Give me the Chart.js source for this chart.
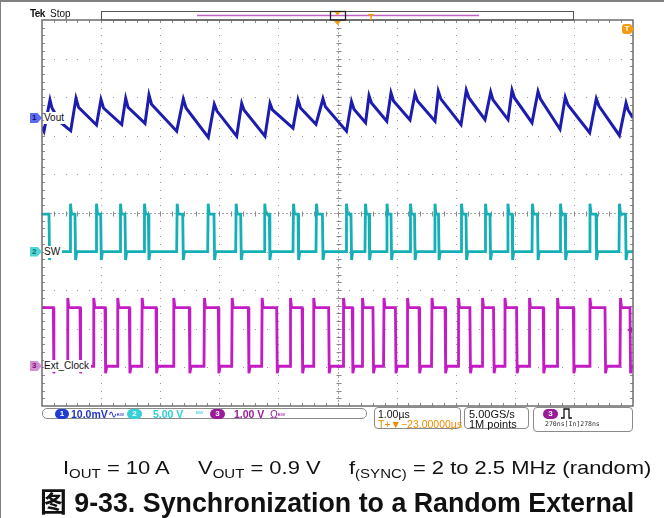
<!DOCTYPE html>
<html><head><meta charset="utf-8">
<script src="https://cdn.jsdelivr.net/npm/chart.js@4.4.1/dist/chart.umd.min.js"></script>
<style>
html,body{margin:0;padding:0;background:#fff;}
body{width:664px;height:518px;position:relative;overflow:hidden;font-family:"Liberation Sans",Arial,sans-serif;}
.abs{position:absolute;white-space:nowrap;}
.mk{position:absolute;width:12px;height:10px;clip-path:polygon(0 0,62% 0,100% 50%,62% 100%,0 100%);font:bold 8px "Liberation Sans",Arial,sans-serif;line-height:10px;padding-left:2px;box-sizing:border-box;}
.lbl{position:absolute;font:10px "Liberation Sans",Arial,sans-serif;line-height:12px;background:#fff;padding-right:2px;color:#111;}
.box{position:absolute;border:1px solid #8a8a8a;border-radius:4px;box-sizing:border-box;background:#fff;}
.badge{position:absolute;height:10px;border-radius:5px;color:#fff;font:bold 8px "Liberation Sans",Arial,sans-serif;line-height:10px;text-align:center;}
.st{position:absolute;white-space:nowrap;font:10.5px "Liberation Sans",Arial,sans-serif;line-height:12px;}
.cap{position:absolute;white-space:nowrap;font:19px "Liberation Sans",Arial,sans-serif;line-height:19px;color:#111;transform:scaleX(1.155);transform-origin:0 0;}
.cap sub{font-size:13px;vertical-align:-4px;line-height:0;}
</style></head><body>
<canvas id="c" width="664" height="518" style="position:absolute;left:0;top:0"></canvas>
<div class="abs" style="left:0;top:0;width:664px;height:2px;background:#808080"></div>
<div class="abs" style="left:0;top:0;width:1px;height:518px;background:#808080"></div>

<div class="abs" style="left:30px;top:8px;font:bold 10px 'Liberation Sans',Arial;letter-spacing:-0.6px;line-height:12px;color:#111">Tek</div>
<div class="abs" style="left:50px;top:8px;font:10px 'Liberation Sans',Arial;line-height:12px;color:#111">Stop</div>

<div class="mk" style="left:30px;top:113px;background:#5b6cf0;color:#10107a">1</div>
<div class="lbl" style="left:44px;top:111.7px">Vout</div>
<div class="mk" style="left:30px;top:246.6px;background:#4fd6d6;color:#0b6f6f">2</div>
<div class="lbl" style="left:44px;top:245.6px">SW</div>
<div class="mk" style="left:30px;top:361px;background:#d58fd5;color:#7a107a">3</div>
<div class="lbl" style="left:44px;top:360px">Ext_Clock</div>

<div class="abs" style="left:622px;top:24px;width:10px;height:10px;background:#f39c12;border-radius:3px;color:#fff;font:bold 8px 'Liberation Sans',Arial;line-height:10px;text-align:center">T</div>

<!-- status bar -->
<div class="box" style="left:42px;top:408px;width:325px;height:11px;border-radius:5px"></div>
<div class="badge" style="left:55px;top:408.5px;width:14px;background:#1e3cd2">1</div>
<div class="st" style="left:71px;top:407.5px;color:#2233cc;font-weight:bold">10.0mV<span style="font-weight:normal">∿</span><span style="font-size:7px;font-weight:normal">ᴮᵂ</span></div>
<div class="badge" style="left:127px;top:408.5px;width:15px;background:#36d0d8">2</div>
<div class="st" style="left:153px;top:407.5px;color:#2ccfd6;font-weight:bold">5.00 V</div>
<div class="st" style="left:196px;top:407.5px;color:#2ccfd6;font-size:7px">ᴮᵂ</div>
<div class="badge" style="left:210px;top:408.5px;width:15px;background:#9a1a9a">3</div>
<div class="st" style="left:234px;top:407.5px;color:#9a1a9a;font-weight:bold">1.00 V</div>
<div class="st" style="left:270px;top:407.5px;color:#9a1a9a">Ω<span style="font-size:7px">ᴮᵂ</span></div>

<div class="box" style="left:374px;top:407px;width:87px;height:22px"></div>
<div class="st" style="left:378px;top:408px;color:#111">1.00µs</div>
<div class="st" style="left:378px;top:418px;color:#f08c00">T+▼−23.00000µs</div>
<div class="box" style="left:464px;top:407px;width:65px;height:22px"></div>
<div class="st" style="left:469px;top:408px;color:#111;font-size:11px">5.00GS/s</div>
<div class="st" style="left:469px;top:418px;color:#111;font-size:11px">1M points</div>
<div class="box" style="left:533px;top:407px;width:100px;height:25px"></div>
<div class="badge" style="left:543px;top:409px;width:15px;background:#9a1a9a">3</div>
<svg class="abs" style="left:561px;top:408px" width="11" height="11"><polyline points="0,10 3,10 3,1 8,1 8,10 11,10" fill="none" stroke="#111" stroke-width="1.3"/></svg>
<div class="st" style="left:545px;top:420px;color:#333;font:6.5px 'DejaVu Sans Mono',monospace;line-height:8px">270ns[In]278ns</div>

<div class="cap" style="left:62.7px;top:457.5px">I<sub>OUT</sub> = 10 A</div>
<div class="cap" style="left:198px;top:457.5px">V<sub>OUT</sub> = 0.9 V</div>
<div class="cap" style="left:349px;top:457.5px">f<sub>(SYNC)</sub> = 2 to 2.5 MHz (random)</div>
<div class="abs" style="left:40px;top:490.3px;font:bold 26.8px 'Liberation Sans',Arial,'Noto Sans CJK SC',sans-serif;line-height:26.8px;color:#111">图 9-33. Synchronization to a Random External</div>

<script>
// ---- Data (time in µs, 10 div of 1 µs) ----
const VOUT_T  = [0,0.034,0.135,0.169,0.305,0.486,0.575,0.618,0.922,0.998,1.041,1.349,1.416,1.455,1.743,1.810,1.853,2.279,2.391,2.437,2.814,2.915,2.961,3.294,3.379,3.418,3.773,3.858,3.900,4.247,4.332,4.374,4.636,4.754,4.796,5.152,5.237,5.279,5.475,5.533,5.575,5.834,5.905,5.948,6.227,6.311,6.354,6.650,6.706,6.751,7.090,7.179,7.225,7.496,7.592,7.631,7.885,7.953,7.995,8.291,8.393,8.435,8.765,8.854,8.900,9.267,9.379,9.425,9.770,9.882,9.916,10.0];
const VOUT_MV = [-2.3,-3.4,4.7,2.6,-1.0,-3.3,5.1,2.8,-1.8,4.8,2.6,-1.7,5.1,2.8,-1.4,6.0,3.6,-3.4,4.9,2.6,-5.0,3.6,1.8,-4.7,3.8,2.1,-4.7,3.8,2.1,-2.6,4.7,2.6,-1.6,5.0,2.9,-3.4,4.3,2.3,-1.2,5.8,3.9,-0.8,6.5,4.4,-0.5,6.3,4.4,-0.8,6.9,4.9,-1.7,7.2,5.2,-0.4,6.7,4.7,-0.4,7.2,5.2,-1.2,6.9,4.9,-2.9,5.4,3.4,-3.8,5.0,3.1,-4.5,3.9,2.1,0.0];

const SW_RISE = [0.474,0.914,1.320,1.726,2.279,2.804,3.277,3.761,4.247,4.636,5.144,5.465,5.829,6.227,6.641,7.090,7.496,7.876,8.291,8.765,9.264,9.763];
const SW_FALL = [0.118,0.558,0.993,1.404,1.799,2.381,2.910,3.362,3.846,4.332,4.745,5.228,5.533,5.905,6.303,6.709,7.174,7.580,7.953,8.384,8.850,9.374,9.873];
const SW_LEVELS_V = [0, 4.85, 6.2, -1.1];      // low, high, overshoot, undershoot

const CLK_RISE = [0.428,0.868,1.274,1.687,2.222,2.741,3.210,3.717,4.197,4.590,5.094,5.415,5.779,6.177,6.591,7.040,7.446,7.826,8.241,8.715,9.264,9.780];
const CLK_FALL = [0.191,0.643,1.066,1.477,1.929,2.492,2.983,3.491,3.971,4.400,4.850,5.250,5.600,5.980,6.380,6.820,7.240,7.640,8.030,8.480,8.990,9.526,9.949];
const CLK_LEVELS_V = [0.03, 1.55, 1.8, -0.15];

// channel display settings (scale per div, ground position in div)
const CH_VOUT = {scale:10, pos:7.46};
const CH_SW   = {scale:5,  pos:4.0};
const CH_CLK  = {scale:1,  pos:1.0};

function square(rises, falls, lv, ch, startHigh){
  const [lo,hi,ov,un] = lv.map(v => ch.pos + v/ch.scale);
  const ev = rises.map(t=>[t,1]).concat(falls.map(t=>[t,0])).sort((a,b)=>a[0]-b[0]);
  let level = startHigh ? hi : lo;
  const pts = [{x:0,y:level}];
  for (const [t,k] of ev){
    if (k===1){ pts.push({x:t,y:lo},{x:t+0.008,y:ov},{x:t+0.025,y:hi}); level=hi; }
    else { pts.push({x:t,y:hi},{x:t+0.01,y:un},{x:t+0.03,y:lo}); level=lo; }
  }
  pts.push({x:10,y:level});
  return pts;
}
const voutPts = VOUT_T.map((t,i)=>({x:t, y:CH_VOUT.pos + VOUT_MV[i]/CH_VOUT.scale}));
const swPts = square(SW_RISE, SW_FALL, SW_LEVELS_V, CH_SW, true);
const clkPts = square(CLK_RISE, CLK_FALL, CLK_LEVELS_V, CH_CLK, true);

const scopeGrid = {
  id:'scopeGrid',
  beforeDatasetsDraw(chart){
    const {ctx, chartArea:a, scales:{x,y}} = chart;
    ctx.save();
    ctx.fillStyle = '#9a9a9a';
    for (let i=1;i<10;i++){
      if (i===5) continue;
      const px = Math.round(x.getPixelForValue(i));
      for (let j=1;j<50;j++){ ctx.fillRect(px, Math.round(y.getPixelForValue(j*0.2)), 1, 1); }
    }
    for (let j=1;j<10;j++){
      if (j===5) continue;
      const py = Math.round(y.getPixelForValue(j));
      for (let i=1;i<50;i++){ ctx.fillRect(Math.round(x.getPixelForValue(i*0.2)), py, 1, 1); }
    }
    const cx = Math.round(x.getPixelForValue(5))+0.5, cy = Math.round(y.getPixelForValue(5))+0.5;
    ctx.strokeStyle = '#a8a8a8'; ctx.lineWidth = 1; ctx.setLineDash([2,2]);
    ctx.beginPath(); ctx.moveTo(cx,a.top); ctx.lineTo(cx,a.bottom); ctx.moveTo(a.left,cy); ctx.lineTo(a.right,cy); ctx.stroke();
    ctx.setLineDash([]); ctx.strokeStyle = '#8a8a8a';
    ctx.beginPath();
    for (let j=1;j<50;j++){ const py=Math.round(y.getPixelForValue(j*0.2))+0.5; ctx.moveTo(cx-2,py); ctx.lineTo(cx+3,py); }
    for (let i=1;i<50;i++){ const px=Math.round(x.getPixelForValue(i*0.2))+0.5; ctx.moveTo(px,cy-2); ctx.lineTo(px,cy+3); }
    ctx.stroke();
    ctx.strokeStyle = '#8a8a8a';
    ctx.beginPath();
    for (let i=1;i<50;i++){ const px=Math.round(x.getPixelForValue(i*0.2))+0.5; ctx.moveTo(px,a.top); ctx.lineTo(px,a.top+3); ctx.moveTo(px,a.bottom); ctx.lineTo(px,a.bottom-3); }
    for (let j=1;j<50;j++){ const py=Math.round(y.getPixelForValue(j*0.2))+0.5; ctx.moveTo(a.left,py); ctx.lineTo(a.left+3,py); ctx.moveTo(a.right,py); ctx.lineTo(a.right-3,py); }
    ctx.stroke();
    ctx.restore();
  },
  afterDraw(chart){
    const {ctx, chartArea:a, scales:{x,y}} = chart;
    ctx.save();
    ctx.strokeStyle = '#6e6e6e'; ctx.lineWidth = 1.5;
    ctx.strokeRect(a.left, a.top, a.right-a.left, a.bottom-a.top);
    ctx.lineWidth = 1; ctx.strokeStyle = '#555';
    ctx.strokeRect(101.5, 11.5, 472, 8.5);
    ctx.strokeStyle = '#c060c0'; ctx.lineWidth = 1.3;
    ctx.beginPath(); ctx.moveTo(197,15.5); ctx.lineTo(479,15.5); ctx.stroke();
    ctx.strokeStyle = '#222'; ctx.lineWidth = 1.3;
    ctx.strokeRect(330.5, 11.5, 15, 8.5);
    ctx.fillStyle = '#f39c12';
    const tx = x.getPixelForValue(5);
    ctx.beginPath(); ctx.moveTo(tx-3,12); ctx.lineTo(tx+3,12); ctx.lineTo(tx,15.5); ctx.closePath(); ctx.fill();
    ctx.beginPath(); ctx.moveTo(tx-3.5,21); ctx.lineTo(tx+3.5,21); ctx.lineTo(tx,25); ctx.closePath(); ctx.fill();
    ctx.fillRect(368,14,6,1.5); ctx.fillRect(370.3,14,1.5,6);
    ctx.beginPath(); ctx.moveTo(631,25.5); ctx.lineTo(634.5,29); ctx.lineTo(631,32.5); ctx.closePath(); ctx.fill();
    ctx.fillStyle = '#b01ab0';
    ctx.beginPath(); ctx.moveTo(627,330); ctx.lineTo(632,327); ctx.lineTo(632,333); ctx.closePath(); ctx.fill();
    ctx.restore();
  }
};

new Chart(document.getElementById('c'), {
  type:'line',
  data:{ datasets:[
    {label:'Ext_Clock', data:clkPts, borderColor:'#c41cc4', borderWidth:2.8},
    {label:'SW', data:swPts, borderColor:'#14b0b6', borderWidth:2.8},
    {label:'Vout', data:voutPts, borderColor:'#1c1cae', borderWidth:3}
  ]},
  options:{
    responsive:false, animation:false, devicePixelRatio:1,
    parsing:false,
    layout:{padding:{left:42, top:20, right:31, bottom:112}},
    elements:{point:{radius:0}, line:{tension:0, borderJoinStyle:'miter'}},
    scales:{
      x:{type:'linear', min:0, max:10, display:false},
      y:{type:'linear', min:0, max:10, display:false}
    },
    plugins:{legend:{display:false}, tooltip:{enabled:false}}
  },
  plugins:[scopeGrid]
});
</script>
</body></html>
